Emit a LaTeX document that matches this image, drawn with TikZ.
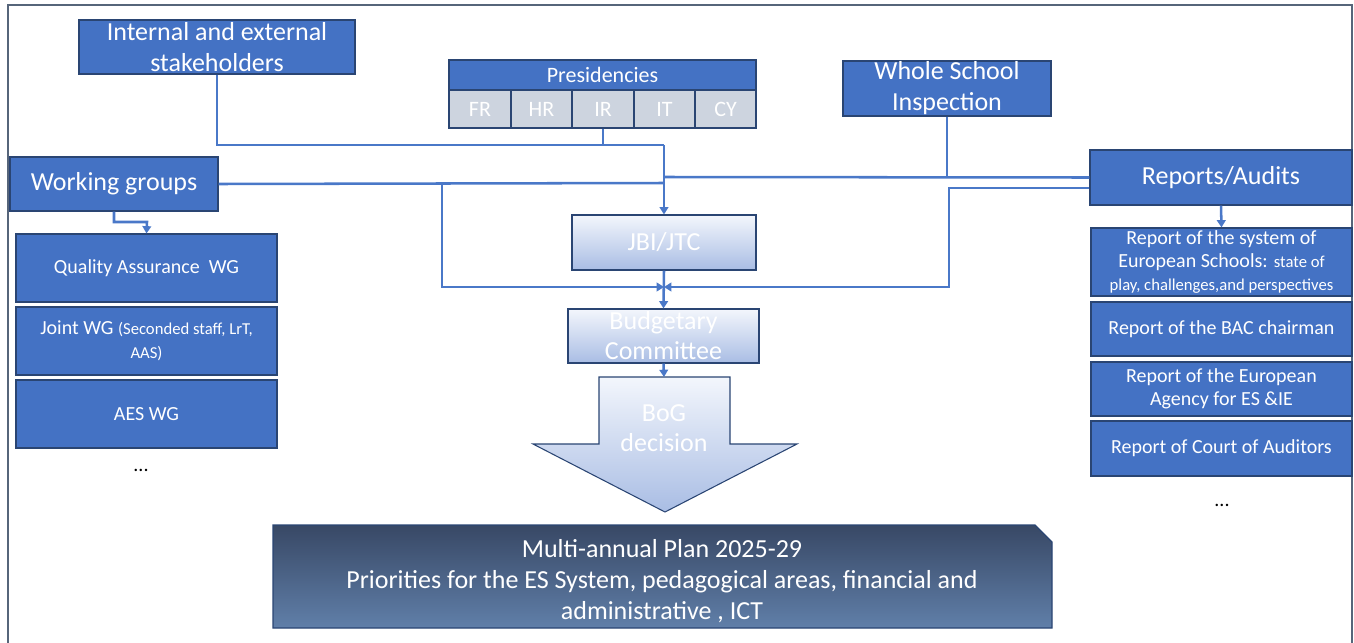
\documentclass[tikz,border=0pt]{standalone}
\usepackage{fontspec}
\setmainfont{Carlito}
\usetikzlibrary{arrows.meta}
\definecolor{boxblue}{HTML}{4472C4}
\definecolor{bordercol}{HTML}{2A4573}
\definecolor{linecol}{HTML}{4A78C8}
\definecolor{cellgray}{HTML}{CDD4DF}
\definecolor{lighttop}{HTML}{F3F6FC}
\definecolor{lightbot}{HTML}{A9BDE4}
\definecolor{darktop}{HTML}{384865}
\definecolor{darkbot}{HTML}{607FA9}
\definecolor{framecol}{HTML}{56657A}
\tikzset{
  sz/.style 2 args={minimum width={#1*0.75pt}, minimum height={#2*0.75pt}},
  box/.style={draw=bordercol, line width=0.8pt, fill=boxblue, text=white, inner sep=0pt, align=center, font=\fontsize{19.5}{23.3}\selectfont},
  rbox/.style={box, font=\fontsize{15}{17.6}\selectfont},
  cellbox/.style={draw=bordercol, line width=0.8pt, fill=cellgray, text=white, inner sep=0pt, font=\fontsize{16.5}{19}\selectfont},
  lightbox/.style={draw=bordercol, line width=0.8pt, top color=lighttop, bottom color=lightbot, text=white, inner sep=0pt, align=center, font=\fontsize{19.5}{22.5}\selectfont},
  conn/.style={draw=linecol, line width=1.9pt},
  arr/.style={conn, -{Triangle[width=6.5pt,length=5.5pt]}},
  dots/.style={text=black, font=\fontsize{15}{18}\selectfont},
  frameline/.style={draw=framecol, line width=1.1pt}
}
\begin{document}
\begin{tikzpicture}[x=0.75pt,y=-0.75pt]
\useasboundingbox (0,0) rectangle (1354,643);
% outer frame
\draw[frameline] (8,643) -- (8,5) -- (1352,5) -- (1352,643);

% top boxes
\node[box, sz={276}{54}] (stake) at (217,47) {Internal and external\\stakeholders};
\node[box, sz={208}{55}] (wsi) at (947,88.5) {Whole School\\Inspection};
\node[box, sz={307}{30}, font=\fontsize{16.5}{19}\selectfont] (pres) at (602.5,75) {Presidencies};
\node[cellbox, sz={62}{38}] (p1) at (480,109) {FR};
\node[cellbox, sz={61}{38}] (p2) at (541.5,109) {HR};
\node[cellbox, sz={62}{38}] (p3) at (603,109) {IR};
\node[cellbox, sz={61}{38}] (p4) at (664.5,109) {IT};
\node[cellbox, sz={61}{38}] (p5) at (725.5,109) {CY};

% side headers
\node[box, sz={208}{54}] (wg) at (114,184) {Working groups};
\node[box, sz={262}{55}] (rep) at (1221,177.5) {Reports/Audits};

% working groups
\node[rbox, sz={261}{68}] (qa) at (146.5,268) {Quality Assurance\ \ WG};
\node[rbox, sz={261}{68}] (jwg) at (146.5,341) {Joint WG {\fontsize{12.5}{17.6}\selectfont(Seconded staff, LrT,}\\{\fontsize{12.5}{17.6}\selectfont AAS)}};
\node[rbox, sz={261}{68}] (aes) at (146.5,414) {AES WG};
\node[dots] (ldots) at (141,470) {...};

% reports
\node[rbox, sz={261}{68}] (r1) at (1221.5,262) {Report of the system of\\European Schools: {\fontsize{12.5}{17.2}\selectfont state of}\\{\fontsize{12.5}{17.2}\selectfont play, challenges,and perspectives}};
\node[rbox, sz={261}{54}] (r2) at (1221.5,329) {Report of the BAC chairman};
\node[rbox, sz={261}{54}] (r3) at (1221.5,389) {Report of the European\\Agency for ES \&IE};
\node[rbox, sz={261}{55}] (r4) at (1221.5,448.5) {Report of Court of Auditors};
\node[dots] (rdots) at (1222,505) {...};

% central chain
\node[lightbox, sz={184}{55}] (jbi) at (664,242.5) {JBI/JTC};
\node[lightbox, sz={191}{54}] (bud) at (663.5,336) {Budgetary\\Committee};
\shadedraw[draw=bordercol, line width=0.8pt, top color=lighttop, bottom color=lightbot]
  (599,377) -- (730,377) -- (730,444) -- (797,444) -- (665,512) -- (533,444) -- (599,444) -- cycle;
\coordinate (bogtop) at (664,377);
\node[text=white, align=center, font=\fontsize{19.5}{22.5}\selectfont] (bog) at (664,428) {BoG\\decision};

% bottom plan
\shadedraw[draw=bordercol, line width=0.8pt, top color=darktop, bottom color=darkbot]
  (273,525) -- (1035,525) -- (1052,542) -- (1052,628) -- (273,628) -- cycle;
\node[text=white, align=center, font=\fontsize{19.5}{23.3}\selectfont] (plan) at (662,581) {Multi-annual Plan 2025-29\\Priorities for the ES System, pedagogical areas, financial and\\administrative , ICT};

% connectors
\coordinate (m1) at (664,145);
\coordinate (m2) at (664,183);
\coordinate (m3) at (664,177);
\coordinate (r2c) at (1090,188);
\coordinate (b1) at (442,183);
\coordinate (b2) at (949,287);
\coordinate (jb) at (664,287);
\coordinate (wq) at (147,222);

\draw[conn] (stake.south) |- (m1);
\draw[conn] (p3.south) |- (m1);
\draw[arr] (m1) -- (jbi.north);
\draw[conn] (wg.east) -- (m2);
\draw[conn] (rep.west) -- (m3);
\draw[conn] (wsi.south) -- (wsi.south |- m3);
\draw[arr] (b1) |- (jb);
\draw[arr] (rep.west |- r2c) -| (b2) -- (jb);
\draw[arr] (jbi.south) -- (bud.north);
\draw[arr] (bud.south) -- (bogtop);
\draw[arr] (wg.south) |- (wq) -- (qa.north);
\draw[arr] (rep.south) -- (r1.north);
\end{tikzpicture}
\end{document}
